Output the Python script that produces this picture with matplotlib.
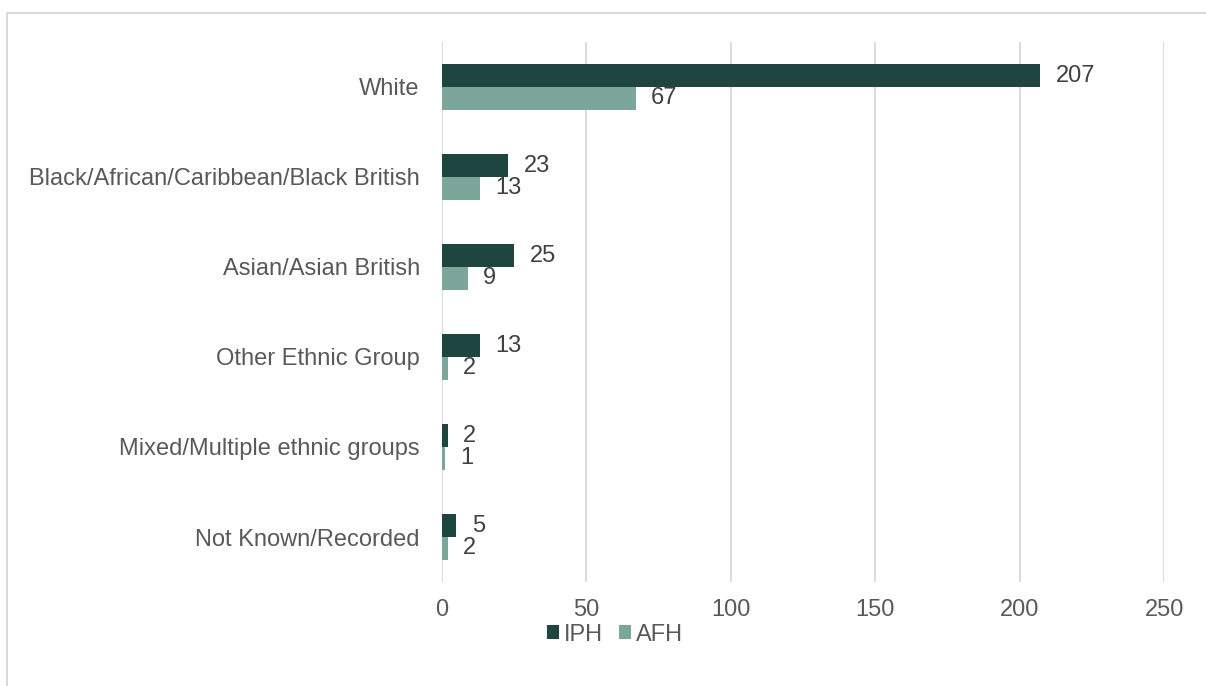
import matplotlib.pyplot as plt
from matplotlib.lines import Line2D
import numpy as np

plt.rcParams['font.family'] = ['Liberation Sans', 'DejaVu Sans']

categories = [
    "White",
    "Black/African/Caribbean/Black British",
    "Asian/Asian British",
    "Other Ethnic Group",
    "Mixed/Multiple ethnic groups",
    "Not Known/Recorded",
]
iph = [207, 23, 25, 13, 2, 5]
afh = [67, 13, 9, 2, 1, 2]
x_ticks = [0, 50, 100, 150, 200, 250]

IPH_COLOR = "#1f4540"
AFH_COLOR = "#7ba699"
GRID_COLOR = "#d9d9d9"
TEXT_COLOR = "#595959"
LABEL_COLOR = "#404040"
FS = 17

fig = plt.figure(figsize=(12.06, 6.86), dpi=100)
ax = fig.add_axes([0.3665, 0.1516, 0.599, 0.7872])

y = np.arange(len(categories))
h = 0.255
bars_iph = ax.barh(y - h / 2, iph, height=h, color=IPH_COLOR, label="IPH", zorder=3)
bars_afh = ax.barh(y + h / 2, afh, height=h, color=AFH_COLOR, label="AFH", zorder=3)

for bars in (bars_iph, bars_afh):
    for b in bars:
        w = b.get_width()
        ax.annotate(f"{w:g}", (w, b.get_y() + b.get_height() / 2),
                    xytext=(11, 0), textcoords="offset points",
                    ha="left", va="center", fontsize=FS, color=LABEL_COLOR)

ax.set_ylim(len(categories) - 0.5, -0.5)
ax.set_xlim(0, 250)
ax.set_xticks(x_ticks)
ax.set_yticks(y)
ax.set_yticklabels(categories)
ax.tick_params(axis="both", length=0, labelsize=FS, labelcolor=TEXT_COLOR)
ax.tick_params(axis="y", pad=16)
ax.tick_params(axis="x", pad=12)
ax.xaxis.grid(True, color=GRID_COLOR, linewidth=1.4, zorder=0)
for s in ax.spines.values():
    s.set_visible(False)

fig.legend(handles=[bars_iph, bars_afh], labels=["IPH", "AFH"], loc="center",
           bbox_to_anchor=(0.51, 0.075), ncol=2, frameon=False, fontsize=FS,
           labelcolor=TEXT_COLOR, handlelength=0.5, handleheight=0.5,
           handletextpad=0.2, columnspacing=0.7)

# chart area border
fig.add_artist(Line2D([7 / 1206, 1.0], [1 - 13 / 686, 1 - 13 / 686],
                      color=GRID_COLOR, linewidth=1.4, transform=fig.transFigure))
fig.add_artist(Line2D([7 / 1206, 7 / 1206], [0.0, 1 - 13 / 686],
                      color=GRID_COLOR, linewidth=1.4, transform=fig.transFigure))

fig.savefig("out.png", dpi=100)
